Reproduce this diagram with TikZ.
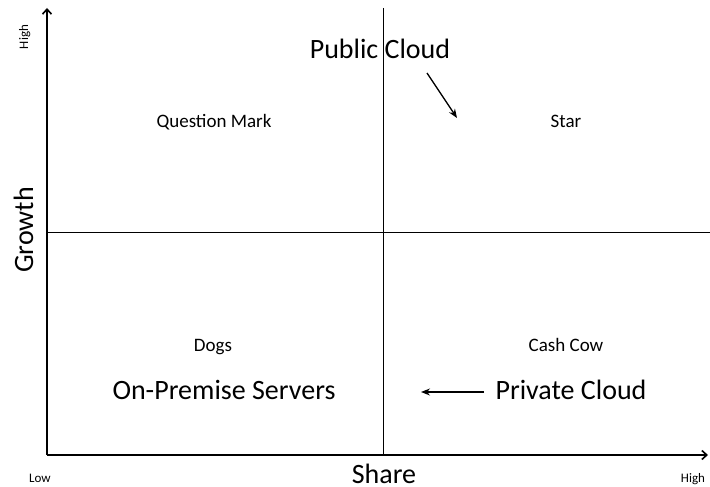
\documentclass[tikz,border=0pt]{standalone}
\usepackage{fontspec}
\setmainfont{Carlito}
\usetikzlibrary{arrows.meta}
\begin{document}
\begin{tikzpicture}[x=1pt,y=-1pt,
  axis/.style={line width=1.6pt,-{Straight Barb[length=5pt,width=9pt]}},
  divider/.style={line width=0.9pt},
  lbl/.style={anchor=base,inner sep=0pt},
  big/.style={lbl,font=\fontsize{28}{32}\selectfont},
  mid/.style={lbl,font=\fontsize{28}{32}\selectfont},
  quad/.style={lbl,font=\fontsize{19}{22}\selectfont},
  tiny/.style={lbl,font=\fontsize{13}{15}\selectfont},
  pointer/.style={line width=1.3pt,-{Stealth[length=9pt,width=7pt]}}]
\useasboundingbox (0,0) rectangle (710,487);
\coordinate (o) at (47,455);
\coordinate (ytop) at (47,8);
\coordinate (xend) at (708,455);
\coordinate (vtop) at (383,8);
\coordinate (vbot) at (383,455);
\coordinate (hl) at (47,232);
\coordinate (hr) at (710,232);
\draw[divider] (vtop) -- (vbot);
\draw[divider] (hl) -- (hr);
\draw[axis] (o) -- (ytop);
\draw[axis] (o) -- (xend);
\node[tiny,rotate=90] (yhigh) at (28,37) {High};
\node[mid,rotate=90] (growth) at (33,230) {Growth};
\node[tiny] (xlow) at (40,482) {Low};
\node[mid] (share) at (384,483) {Share};
\node[tiny] (xhigh) at (693,482) {High};
\node[quad] (qm) at (214,128) {Question Mark};
\node[quad] (star) at (566,128) {Star};
\node[quad] (dogs) at (213,351) {Dogs};
\node[quad] (cow) at (566,351) {Cash Cow};
\node[big] (pub) at (380,59) {Public Cloud};
\node[big] (onprem) at (224,399) {On-Premise Servers};
\node[big] (priv) at (571,399) {Private Cloud};
\coordinate (pubs) at (427,73);
\coordinate (pube) at (457,118);
\draw[pointer] (pubs) -- (pube);
\coordinate (privs) at (484,392);
\coordinate (prive) at (421,392);
\draw[pointer] (privs) -- (prive);
\end{tikzpicture}
\end{document}
